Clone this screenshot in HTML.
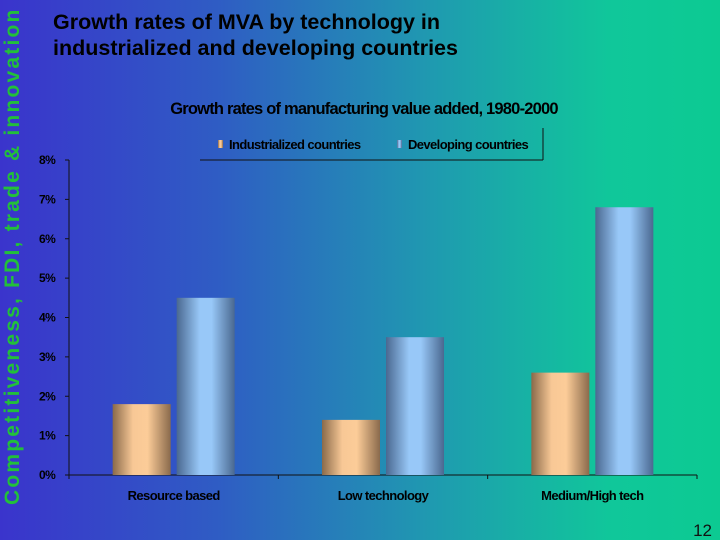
<!DOCTYPE html>
<html><head><meta charset="utf-8"><style>
body{margin:0;width:720px;height:540px;overflow:hidden;font-family:"Liberation Sans",sans-serif}
#page{position:relative;width:720px;height:540px;background:linear-gradient(90deg,#3a34cc 0%,#2f5cc4 30%,#1f9ab0 60%,#10c79a 85%,#0cca92 100%)}
#side{position:absolute;left:1px;top:505px;transform-origin:0 0;transform:rotate(-90deg);color:#22c03a;font-weight:bold;font-size:21px;line-height:24px;white-space:nowrap;letter-spacing:2.2px}
#title{position:absolute;left:53px;top:9px;font-weight:bold;font-size:21.5px;line-height:26px;color:#000}
#pnum{position:absolute;right:8px;top:521px;font-size:17px;color:#111}
</style></head><body>
<div id="page">
<div id="side">Competitiveness, FDI, trade &amp; innovation</div>
<div id="title">Growth rates of MVA by technology in<br>industrialized and developing countries</div>
<div id="pnum">12</div>
<svg id="chart" width="720" height="540" style="position:absolute;left:0;top:0">
<defs>
<linearGradient id="gO" x1="0" x2="1" y1="0" y2="0"><stop offset="0" stop-color="#8a6a4a"/><stop offset="0.35" stop-color="#f8c896"/><stop offset="0.6" stop-color="#fccc98"/><stop offset="1" stop-color="#8a6a4c"/></linearGradient>
<linearGradient id="gB" x1="0" x2="1" y1="0" y2="0"><stop offset="0" stop-color="#4a6890"/><stop offset="0.4" stop-color="#98c8f8"/><stop offset="0.6" stop-color="#98c8f8"/><stop offset="1" stop-color="#4a6890"/></linearGradient>
</defs>
<text x="364" y="114" text-anchor="middle" font-size="16.5" font-weight="bold" letter-spacing="-0.8">Growth rates of manufacturing value added, 1980-2000</text>
<g id="legend">
<line x1="200" y1="160" x2="543" y2="160" stroke="#111" stroke-width="1"/>
<line x1="543" y1="128" x2="543" y2="160" stroke="#111" stroke-width="1"/>
<rect x="218" y="140" width="5" height="8" fill="url(#gO)"/>
<text x="229" y="149" font-size="13" font-weight="bold" letter-spacing="-0.6">Industrialized countries</text>
<rect x="397" y="140" width="5" height="8" fill="url(#gB)"/>
<text x="408" y="149" font-size="13" font-weight="bold" letter-spacing="-0.6">Developing countries</text>
</g>
<g id="axes"></g><g id="bars"></g>
</svg>
</div>
<script>
const categories=["Resource based","Low technology","Medium/High tech"];
const industrialized=[1.8,1.4,2.6];
const developing=[4.5,3.5,6.8];
const yTicks=[0,1,2,3,4,5,6,7,8];
const yTickLabels=["0%","1%","2%","3%","4%","5%","6%","7%","8%"];
const NS="http://www.w3.org/2000/svg";
const X0=69,X1=697,Y0=475,Y1=160,YMAX=8;
const y=v=>Y0-(v/YMAX)*(Y0-Y1);
const catW=(X1-X0)/categories.length;
const cx=i=>X0+catW*(i+0.5);
function mk(t,a,p){const e=document.createElementNS(NS,t);for(const k in a)e.setAttribute(k,a[k]);p.appendChild(e);return e;}
const ax=document.getElementById('axes'),bs=document.getElementById('bars');
let l=mk('line',{x1:X0,y1:Y1,x2:X0,y2:Y0,stroke:'#111'},ax);


l=mk('line',{x1:X0,y1:Y0,x2:X1,y2:Y0,stroke:'#111'},ax);


yTicks.forEach((v,i)=>{
 mk('line',{x1:X0-4,y1:y(v),x2:X0,y2:y(v),stroke:'#111'},ax);
 const t=mk('text',{x:X0-30,y:y(v)+4,'font-size':12,'font-weight':'bold','letter-spacing':'-0.6'},ax);
 t.textContent=yTickLabels[i];
 
 
});
for(let i=0;i<=categories.length;i++){const xx=X0+catW*i;mk('line',{x1:xx,y1:Y0,x2:xx,y2:Y0+4,stroke:'#111'},ax);}
const bw=58,gap=6;
categories.forEach((c,i)=>{
 const t=mk('text',{x:cx(i),y:500,'text-anchor':'middle','font-size':13,'font-weight':'bold','letter-spacing':'-0.6'},ax);
 t.textContent=c;
 
 
 let r=mk('rect',{x:cx(i)-bw-gap/2,y:y(industrialized[i]),width:bw,height:Y0-y(industrialized[i]),fill:'url(#gO)'},bs);
 
 
 r=mk('rect',{x:cx(i)+gap/2,y:y(developing[i]),width:bw,height:Y0-y(developing[i]),fill:'url(#gB)'},bs);
 
 
});
</script>
</body></html>
